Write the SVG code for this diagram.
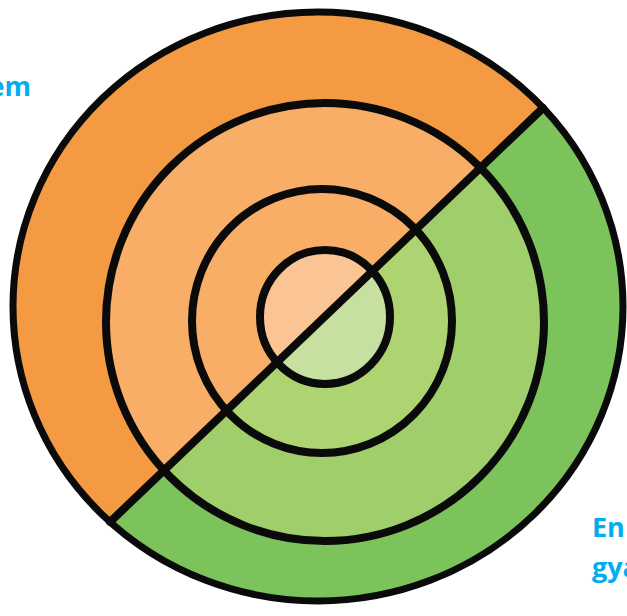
<svg xmlns="http://www.w3.org/2000/svg" width="627" height="616" viewBox="0 0 627 616">
<style>
.ring{stroke:#0a0a0a;stroke-width:8;fill:none}
.lbl{font-family:"Open Sans","Liberation Sans",sans-serif;font-weight:bold;font-size:27px;fill:#00AEEF}
</style>
<defs>
<clipPath id="top"><polygon points="-20,646 647,9 647,-20 -20,-20"/></clipPath>
<clipPath id="bot"><polygon points="-20,646 647,9 647,640 -20,640"/></clipPath>
</defs>
<rect width="627" height="616" fill="#ffffff"/>
<g id="orange-half" clip-path="url(#top)">
<ellipse cx="318" cy="306.5" rx="305" ry="294.5" fill="#F49A43"/>
<ellipse cx="325" cy="322" rx="219" ry="219" fill="#F8AE66"/>
<ellipse cx="322" cy="321" rx="130" ry="132" fill="#F8AE66"/>
<ellipse cx="325" cy="317" rx="65" ry="67" fill="#FBC495"/>
</g>
<g id="green-half" clip-path="url(#bot)">
<ellipse cx="318" cy="306.5" rx="305" ry="294.5" fill="#7DC35B"/>
<ellipse cx="325" cy="322" rx="219" ry="219" fill="#A0CE6A"/>
<ellipse cx="322" cy="321" rx="130" ry="132" fill="#AED471"/>
<ellipse cx="325" cy="317" rx="65" ry="67" fill="#C5E0A0"/>
</g>
<g id="outlines">
<ellipse id="ring-outer" class="ring" cx="318" cy="306.5" rx="305" ry="294.5" style="stroke-width:7"/>
<ellipse id="ring-3" class="ring" cx="325" cy="322" rx="219" ry="219"/>
<ellipse id="ring-2" class="ring" cx="322" cy="321" rx="130" ry="132"/>
<ellipse id="ring-1" class="ring" cx="325" cy="317" rx="65" ry="67"/>
<line id="divider" x1="110" y1="522" x2="543" y2="108" stroke="#0a0a0a" stroke-width="8" stroke-linecap="round"/>
</g>
<g id="labels">
<text class="lbl" x="31" y="96" text-anchor="end">em</text>
<text class="lbl" x="592" y="537">En</text>
<text class="lbl" x="592" y="577">gya</text>
</g>
</svg>
